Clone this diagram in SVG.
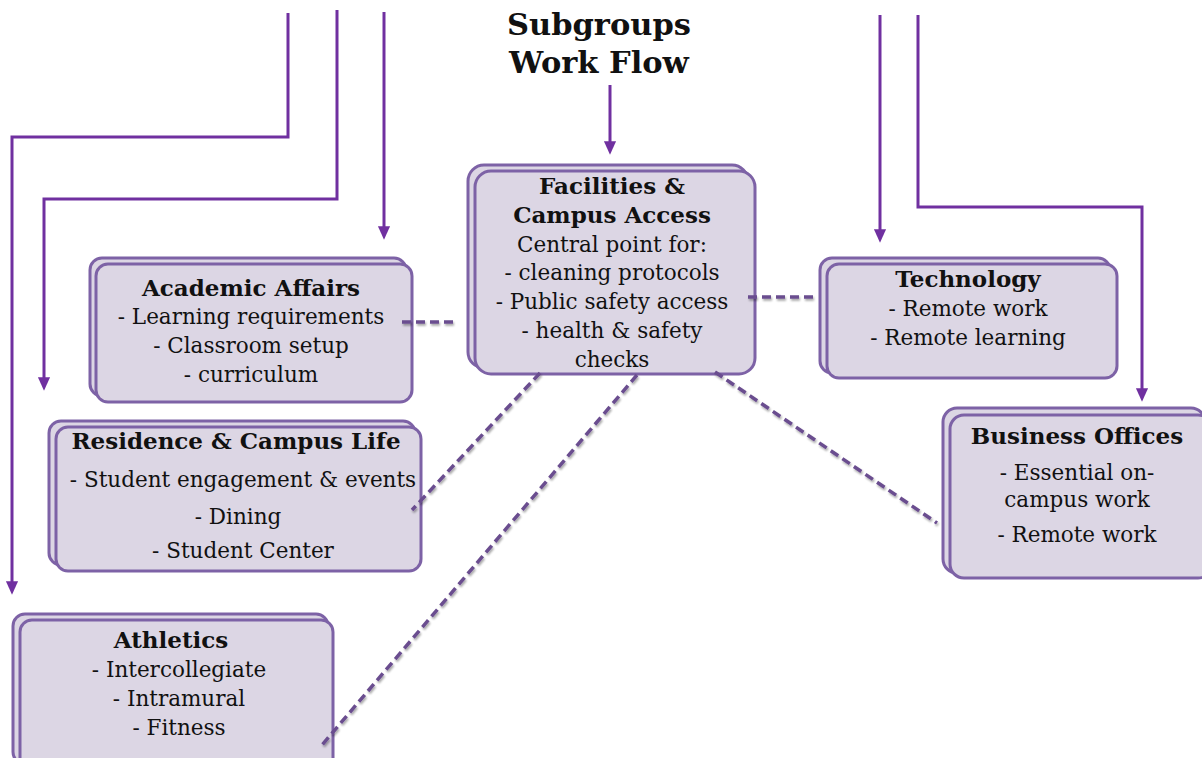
<svg xmlns="http://www.w3.org/2000/svg" width="1202" height="758" viewBox="0 0 1202 758">
<defs>
<marker id="ah" viewBox="0 0 10 10" refX="5" refY="5" markerWidth="4.5" markerHeight="4.5" orient="auto" markerUnits="strokeWidth">
<path d="M0,0.5 L10,5 L0,9.5 Z" fill="#7030A0"/>
</marker>
<filter id="sh" x="-10%" y="-10%" width="120%" height="120%">
<feGaussianBlur in="SourceAlpha" stdDeviation="1.2"/>
<feOffset dx="1" dy="2" result="b"/>
<feComponentTransfer><feFuncA type="linear" slope="0.35"/></feComponentTransfer>
<feMerge><feMergeNode/><feMergeNode in="SourceGraphic"/></feMerge>
</filter>
</defs>
<style>
.bk{fill:#DCD6E4;stroke:#7D62A6;stroke-width:3}
.fr{fill:#DCD6E4;stroke:#7D62A6;stroke-width:3}
.t{font-family:"DejaVu Serif","Liberation Serif",serif;font-size:21.5px;fill:#111;text-anchor:middle}
.b{font-weight:bold;font-size:23px}
.ttl{font-family:"DejaVu Serif","Liberation Serif",serif;font-size:30.5px;font-weight:bold;fill:#111;text-anchor:middle}
.ar{fill:none;stroke:#7030A0;stroke-width:3;marker-end:url(#ah)}
.ds{fill:none;stroke:#6A4D8F;stroke-width:3.5;stroke-dasharray:9 5}
</style>
<rect width="1202" height="758" fill="#fff"/>
<g id="title">
<text class="ttl" x="599" y="35">Subgroups</text>
<text class="ttl" x="599" y="73">Work Flow</text>
</g>
<g id="academic">
<rect class="bk" x="90" y="258" width="316" height="138" rx="12"/>
<rect class="fr" x="96" y="264" width="316" height="138" rx="12"/>
<text class="t b" x="251" y="296">Academic Affairs</text>
<text class="t" x="251" y="324">- Learning requirements</text>
<text class="t" x="251" y="353">- Classroom setup</text>
<text class="t" x="251" y="382">- curriculum</text>
</g>
<g id="facilities">
<rect class="bk" x="468" y="165" width="280" height="203" rx="16"/>
<rect class="fr" x="475" y="171" width="280" height="203" rx="16"/>
<text class="t b" x="612" y="194">Facilities &amp;</text>
<text class="t b" x="612" y="223">Campus Access</text>
<text class="t" x="612" y="252">Central point for:</text>
<text class="t" x="612" y="280">- cleaning protocols</text>
<text class="t" x="612" y="309">- Public safety access</text>
<text class="t" x="612" y="338">- health &amp; safety</text>
<text class="t" x="612" y="367">checks</text>
</g>
<g id="technology">
<rect class="bk" x="820" y="258" width="290" height="115" rx="12"/>
<rect class="fr" x="827" y="264" width="290" height="114" rx="12"/>
<text class="t b" x="968" y="287">Technology</text>
<text class="t" x="968" y="316">- Remote work</text>
<text class="t" x="968" y="345">- Remote learning</text>
</g>
<g id="business">
<rect class="bk" x="943" y="408" width="262" height="165" rx="14"/>
<rect class="fr" x="950" y="415" width="262" height="163" rx="14"/>
<text class="t b" x="1077" y="444">Business Offices</text>
<text class="t" x="1077" y="480">- Essential on-</text>
<text class="t" x="1077" y="507">campus work</text>
<text class="t" x="1077" y="542">- Remote work</text>
</g>
<g id="residence">
<rect class="bk" x="49" y="421" width="366" height="144" rx="12"/>
<rect class="fr" x="56" y="427" width="365" height="144" rx="12"/>
<text class="t b" x="236" y="449">Residence &amp; Campus Life</text>
<text class="t" x="243" y="487">- Student engagement &amp; events</text>
<text class="t" x="238" y="524">- Dining</text>
<text class="t" x="243" y="558">- Student Center</text>
</g>
<g id="athletics">
<rect class="bk" x="13" y="614" width="315" height="150" rx="12"/>
<rect class="fr" x="20" y="620" width="313" height="150" rx="12"/>
<text class="t b" x="171" y="648">Athletics</text>
<text class="t" x="179" y="677">- Intercollegiate</text>
<text class="t" x="179" y="706">- Intramural</text>
<text class="t" x="179" y="735">- Fitness</text>
</g>
<g id="connectors">
<polyline class="ar" points="288,13 288,137 12,137 12,588"/>
<polyline class="ar" points="337,10 337,199 44,199 44,384"/>
<polyline class="ar" points="384,12 384,233"/>
<polyline class="ar" points="610,85 610,148"/>
<polyline class="ar" points="880,15 880,236"/>
<polyline class="ar" points="918,15 918,207 1142,207 1142,395"/>
<g filter="url(#sh)">
<line class="ds" x1="402" y1="322" x2="457" y2="322"/>
<line class="ds" x1="748" y1="297" x2="815" y2="297"/>
<line class="ds" x1="540" y1="373" x2="412" y2="510"/>
<line class="ds" x1="637" y1="375" x2="322" y2="745"/>
<line class="ds" x1="715" y1="372" x2="937" y2="523"/>
</g>
</g>
</svg>
